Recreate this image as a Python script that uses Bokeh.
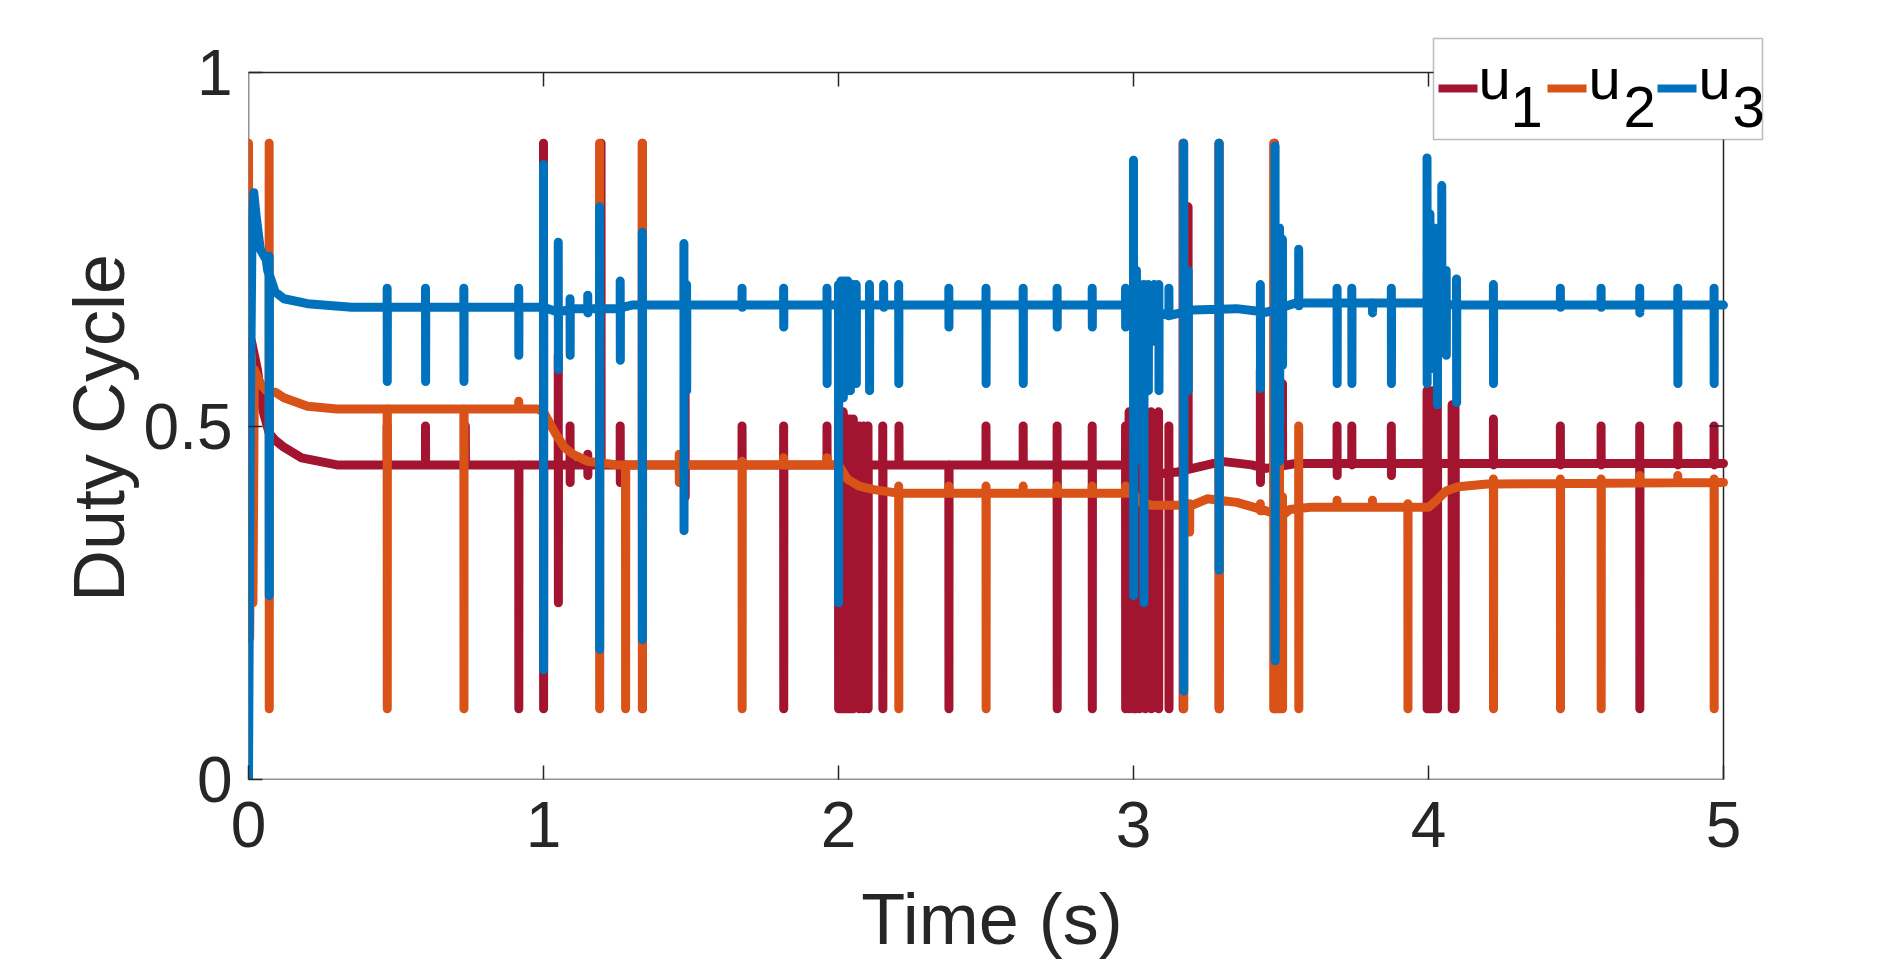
import numpy as np
from bokeh.plotting import figure
from bokeh.models import FixedTicker, Range1d, Label, BoxAnnotation
from bokeh.embed import file_html
from bokeh.resources import INLINE

C1, C2, C3 = "#A2142F", "#D95319", "#0072BD"
AX = "#262626"
FONT = "Liberation Sans"

x_ticks = [0, 1, 2, 3, 4, 5]
y_ticks = [0, 0.5, 1]
x_label = "Time (s)"
y_label = "Duty Cycle"

# ---------------- u1 ----------------
u1_base_t = [0, 0.01, 0.03, 0.05, 0.07, 0.09, 0.12, 0.18, 0.3, 3.0, 3.06, 3.15, 3.3, 3.4, 3.45, 3.55, 5.0]
u1_base_v = [0.2, 0.62, 0.58, 0.52, 0.49, 0.48, 0.47, 0.455, 0.445, 0.445, 0.432, 0.435, 0.45, 0.445, 0.44, 0.447, 0.447]
u1_spike_t = [0.47, 0.60, 0.735, 0.916, 1.0, 1.05, 1.09, 1.15, 1.195, 1.26, 1.335, 1.48, 1.673, 1.814, 1.961,
              2.0, 2.008, 2.016, 2.024, 2.032, 2.04, 2.05, 2.07, 2.085, 2.1, 2.15, 2.205, 2.374, 2.5,
              2.626, 2.741, 2.86, 2.973, 2.985, 3.0, 3.008, 3.02, 3.04, 3.06, 3.085, 3.12,
              3.168, 3.185, 3.29, 3.43, 3.478, 3.505, 3.69, 3.74, 3.874,
              3.995, 4.0, 4.008, 4.015, 4.022, 4.03, 4.08, 4.09, 4.22, 4.447, 4.585, 4.716, 4.845, 4.968]
u1_spike_lo = [0.445, 0.445, 0.445, 0.1, 0.1, 0.25, 0.42, 0.43, 0.45, 0.42, 0.1, 0.40, 0.445, 0.1, 0.445,
               0.1, 0.1, 0.1, 0.1, 0.1, 0.1, 0.1, 0.1, 0.1, 0.1, 0.1, 0.445, 0.1, 0.445,
               0.445, 0.1, 0.1, 0.1, 0.1, 0.1, 0.1, 0.1, 0.1, 0.1, 0.1, 0.1,
               0.1, 0.45, 0.1, 0.42, 0.1, 0.45, 0.43, 0.445, 0.43,
               0.1, 0.1, 0.1, 0.1, 0.1, 0.1, 0.1, 0.1, 0.445, 0.445, 0.445, 0.1, 0.445, 0.445]
u1_spike_hi = [0.50, 0.50, 0.50, 0.445, 0.9, 0.6, 0.5, 0.46, 0.9, 0.5, 0.9, 0.55, 0.5, 0.5, 0.5,
               0.52, 0.52, 0.52, 0.51, 0.51, 0.51, 0.51, 0.5, 0.5, 0.5, 0.5, 0.5, 0.445, 0.5,
               0.5, 0.5, 0.5, 0.5, 0.52, 0.52, 0.52, 0.52, 0.52, 0.52, 0.52, 0.5,
               0.9, 0.81, 0.9, 0.58, 0.9, 0.56, 0.5, 0.5, 0.5,
               0.55, 0.55, 0.55, 0.55, 0.55, 0.55, 0.53, 0.53, 0.51, 0.5, 0.5, 0.5, 0.5, 0.5]

# ---------------- u2 ----------------
u2_base_t = [0, 0.004, 0.01, 0.015, 0.02, 0.04, 0.06, 0.09, 0.12, 0.2, 0.3, 0.98, 1.0, 1.04, 1.07, 1.1, 1.15, 1.25,
             2.0, 2.03, 2.07, 2.12, 2.2, 3.0, 3.02, 3.06, 3.2, 3.25, 3.35, 3.45, 3.5, 3.53, 3.6,
             4.0, 4.03, 4.06, 4.1, 4.2, 5.0]
u2_base_v = [0.9, 0.2, 0.6, 0.25, 0.58, 0.56, 0.55, 0.548, 0.54, 0.528, 0.524, 0.524, 0.52, 0.49, 0.47, 0.46, 0.45, 0.445,
             0.445, 0.425, 0.415, 0.41, 0.405, 0.405, 0.393, 0.388, 0.388, 0.397, 0.392, 0.38, 0.372, 0.382, 0.385,
             0.385, 0.396, 0.408, 0.414, 0.418, 0.42]
u2_spike_t = [0.07, 0.47, 0.73, 0.916, 1.19, 1.278, 1.335, 1.46, 1.673, 1.814, 1.961, 2.204, 2.374, 2.5,
              2.626, 2.741, 2.86, 2.973, 3.17, 3.19, 3.29, 3.43, 3.475, 3.485, 3.495, 3.505, 3.56, 3.69,
              3.81, 3.93, 4.22, 4.447, 4.585, 4.716, 4.845, 4.968]
u2_spike_lo = [0.1, 0.1, 0.1, 0.524, 0.1, 0.1, 0.1, 0.42, 0.1, 0.445, 0.445, 0.1, 0.405, 0.1,
               0.405, 0.405, 0.405, 0.405, 0.1, 0.35, 0.1, 0.38, 0.1, 0.1, 0.1, 0.1, 0.1, 0.385,
               0.385, 0.1, 0.1, 0.1, 0.1, 0.42, 0.42, 0.1]
u2_spike_hi = [0.9, 0.524, 0.524, 0.535, 0.9, 0.445, 0.9, 0.46, 0.45, 0.455, 0.455, 0.415, 0.415, 0.415,
               0.415, 0.415, 0.415, 0.415, 0.9, 0.39, 0.9, 0.39, 0.9, 0.5, 0.5, 0.4, 0.5, 0.395,
               0.395, 0.39, 0.425, 0.425, 0.425, 0.43, 0.43, 0.425]

# ---------------- u3 ----------------
u3_base_t = [0, 0.006, 0.012, 0.018, 0.025, 0.04, 0.06, 0.065, 0.09, 0.12, 0.2, 0.35, 1.0, 1.05, 1.1, 1.25, 1.3,
             3.0, 3.05, 3.12, 3.2, 3.35, 3.45, 3.55, 4.0, 4.1, 5.0]
u3_base_v = [0.0, 0.5, 0.78, 0.83, 0.8, 0.75, 0.735, 0.72, 0.69, 0.68, 0.673, 0.668, 0.668, 0.661, 0.666, 0.666, 0.671,
             0.671, 0.666, 0.656, 0.664, 0.666, 0.661, 0.674, 0.674, 0.671, 0.671]
u3_spike_t = [0.07, 0.47, 0.60, 0.73, 0.916, 1.0, 1.05, 1.09, 1.15, 1.19, 1.26, 1.335, 1.476, 1.485, 1.673, 1.814, 1.961,
              2.0, 2.008, 2.016, 2.024, 2.032, 2.04, 2.05, 2.06, 2.105, 2.153, 2.204, 2.374, 2.5,
              2.626, 2.741, 2.86, 2.973, 3.0, 3.01, 3.02, 3.035, 3.05, 3.07, 3.086, 3.12,
              3.17, 3.185, 3.29, 3.43, 3.48, 3.495, 3.505, 3.56, 3.69, 3.74, 3.81, 3.874,
              3.995, 4.005, 4.02, 4.03, 4.045, 4.06, 4.095, 4.22, 4.447, 4.585, 4.716, 4.845, 4.968]
u3_spike_lo = [0.26, 0.563, 0.563, 0.563, 0.6, 0.155, 0.58, 0.6, 0.66, 0.184, 0.593, 0.198, 0.352, 0.55, 0.668, 0.64, 0.56,
               0.25, 0.54, 0.54, 0.55, 0.55, 0.55, 0.56, 0.56, 0.55, 0.668, 0.56, 0.64, 0.56,
               0.56, 0.64, 0.64, 0.64, 0.26, 0.45, 0.5, 0.25, 0.55, 0.62, 0.55, 0.66,
               0.125, 0.55, 0.296, 0.553, 0.168, 0.45, 0.586, 0.67, 0.56, 0.56, 0.66, 0.56,
               0.56, 0.58, 0.60, 0.53, 0.62, 0.60, 0.533, 0.56, 0.668, 0.668, 0.66, 0.56, 0.56]
u3_spike_hi = [0.74, 0.695, 0.695, 0.695, 0.695, 0.87, 0.76, 0.68, 0.685, 0.81, 0.705, 0.774, 0.758, 0.70, 0.695, 0.695, 0.695,
               0.7, 0.705, 0.705, 0.705, 0.705, 0.70, 0.70, 0.70, 0.70, 0.70, 0.70, 0.695, 0.695,
               0.695, 0.695, 0.695, 0.695, 0.876, 0.72, 0.70, 0.70, 0.70, 0.70, 0.70, 0.695,
               0.9, 0.72, 0.9, 0.70, 0.896, 0.78, 0.764, 0.75, 0.695, 0.695, 0.672, 0.695,
               0.879, 0.80, 0.78, 0.76, 0.84, 0.72, 0.708, 0.70, 0.695, 0.695, 0.695, 0.695, 0.695]

legend_names = ["u", "u", "u"]
legend_subs = ["1", "2", "3"]
legend_colors = [C1, C2, C3]


def build(bt, bv, st, slo, shi):
    pts = list(zip(bt, bv))
    for t, lo, hi in zip(st, slo, shi):
        b = float(np.interp(t, bt, bv))
        pts += [(t - 1e-4, b), (t, hi), (t + 4e-4, lo), (t + 8e-4, b)]
    pts.sort(key=lambda q: q[0])
    return [q[0] for q in pts], [q[1] for q in pts]


# geometry (pixels): axes box 248..1723 x 72..779; frame enlarged to hold the legend
W, H = 1904, 964
BL, BR, BT, BB = 248, 129, 36, 185
PX_PER_X = 295.0
PX_PER_Y = 707.0
x_end = x_ticks[-1] + (W - BR - BL - PX_PER_X * x_ticks[-1]) / PX_PER_X
y_end = y_ticks[-1] + (H - BB - BT - PX_PER_Y * y_ticks[-1]) / PX_PER_Y

# the enlarged frame shifts the centred axis titles; trailing no-break spaces re-centre them on the axes box
PAD = "\u00a0\u00a0"

p = figure(width=W, height=H, output_backend="svg", toolbar_location=None,
           x_range=Range1d(x_ticks[0], x_end), y_range=Range1d(y_ticks[0], y_end),
           min_border_left=BL, min_border_right=BR, min_border_top=BT, min_border_bottom=BB,
           x_axis_label=x_label + PAD, y_axis_label=y_label + PAD)
p.background_fill_color = "white"
p.border_fill_color = "white"
p.outline_line_color = None
p.xgrid.grid_line_color = None
p.ygrid.grid_line_color = None

# axes box
x0, x1 = x_ticks[0], x_ticks[-1]
y0, y1 = y_ticks[0], y_ticks[-1]
p.segment(x0=[x0, x0, x0, x1], y0=[y0, y1, y0, y0], x1=[x1, x1, x0, x1], y1=[y0, y1, y1, y1],
          line_color=AX, line_width=1.5)

for xs_ys, col in [(build(u1_base_t, u1_base_v, u1_spike_t, u1_spike_lo, u1_spike_hi), C1),
                   (build(u2_base_t, u2_base_v, u2_spike_t, u2_spike_lo, u2_spike_hi), C2),
                   (build(u3_base_t, u3_base_v, u3_spike_t, u3_spike_lo, u3_spike_hi), C3)]:
    p.line(xs_ys[0], xs_ys[1], line_color=col, line_width=9, line_cap="round", line_join="round")

# mirrored inward ticks on top and right edges
p.ray(x=x_ticks[1:-1], y=[y1] * (len(x_ticks) - 2), length=14, length_units="screen",
      angle=-np.pi / 2, line_color=AX, line_width=1.5)
p.ray(x=[x1] * (len(y_ticks) - 2), y=y_ticks[1:-1], length=14, length_units="screen",
      angle=np.pi, line_color=AX, line_width=1.5)

for ax, ticks in ((p.xaxis[0], x_ticks), (p.yaxis[0], y_ticks)):
    ax.ticker = FixedTicker(ticks=ticks)
    ax.minor_tick_line_color = None
    ax.major_tick_in = 14
    ax.major_tick_out = 0
    ax.axis_line_color = None
    ax.major_tick_line_color = AX
    ax.major_tick_line_width = 1.5
    ax.major_label_text_font = FONT
    ax.major_label_text_color = AX
    ax.major_label_text_font_size = "64px"
    ax.axis_label_text_font = FONT
    ax.axis_label_text_font_size = "72px"
    ax.axis_label_text_font_style = "normal"
    ax.axis_label_text_color = AX
p.xaxis[0].major_label_standoff = 22
p.yaxis[0].major_label_standoff = 16
p.xaxis[0].axis_label_standoff = 29
p.yaxis[0].axis_label_standoff = 2
p.xaxis[0].major_label_overrides = {0: "0", 1: "1", 2: "2", 3: "3", 4: "4", 5: "5"}
p.yaxis[0].major_label_overrides = {0: "0", 0.5: "0.5", 1: "1"}

# legend (screen units relative to the frame's bottom-left corner)
p.add_layout(BoxAnnotation(left=1185, right=1514, bottom=640, top=741,
                           left_units="screen", right_units="screen", bottom_units="screen", top_units="screen",
                           fill_color="white", fill_alpha=1.0, line_color=AX, line_width=1.5, level="overlay"))
sample_x0 = [1190, 1299, 1409]
text_x = [1230, 1340, 1450]
sub_x = [1262, 1375, 1484]
for i in range(3):
    p.add_layout(BoxAnnotation(left=sample_x0[i], right=sample_x0[i] + 39, bottom=687, top=695,
                               left_units="screen", right_units="screen", bottom_units="screen", top_units="screen",
                               fill_color=legend_colors[i], fill_alpha=1.0, line_color=None, level="overlay"))
    p.add_layout(Label(x=text_x[i], y=701, x_units="screen", y_units="screen", text=legend_names[i],
                       text_font=FONT, text_font_size="58px", text_color="black",
                       text_baseline="middle", level="overlay"))
    p.add_layout(Label(x=sub_x[i], y=673, x_units="screen", y_units="screen", text=legend_subs[i],
                       text_font=FONT, text_font_size="58px", text_color="black",
                       text_baseline="middle", level="overlay"))

open("out.html", "w").write(file_html(p, INLINE))
